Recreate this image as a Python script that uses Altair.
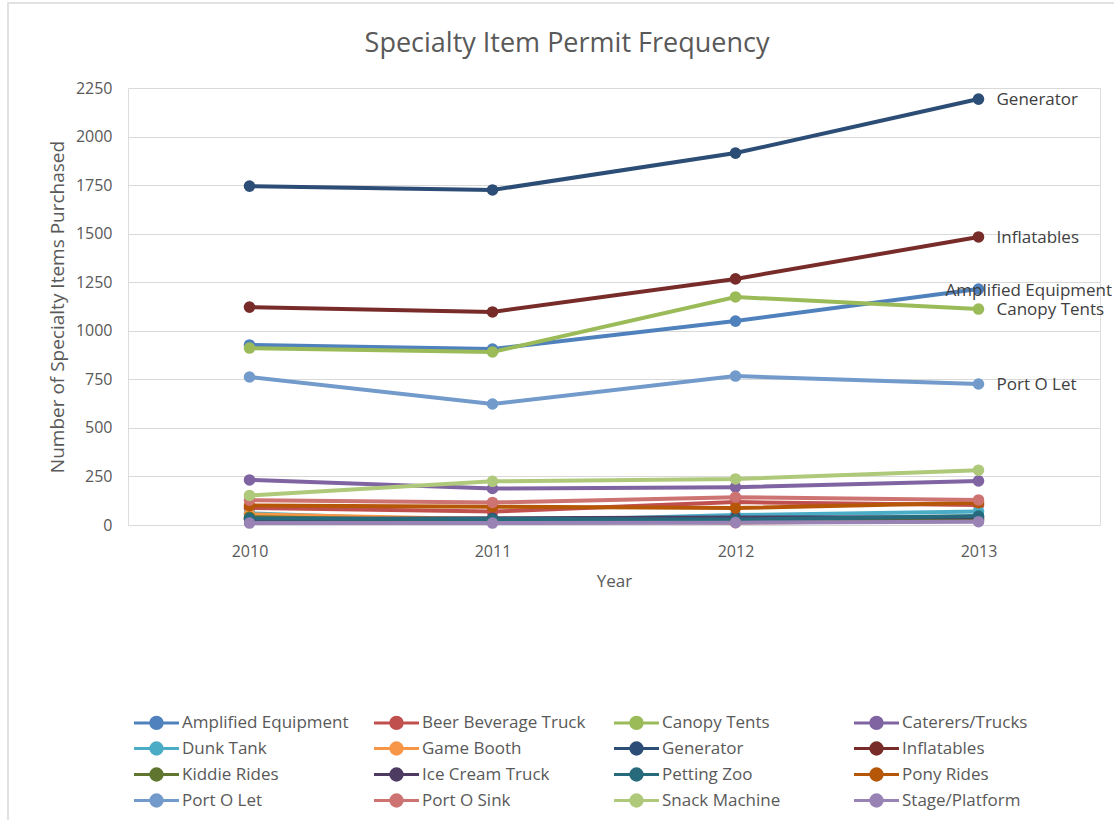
import altair as alt
import pandas as pd

years = ["2010", "2011", "2012", "2013"]

series_names = [
    "Amplified Equipment", "Beer Beverage Truck", "Canopy Tents", "Caterers/Trucks",
    "Dunk Tank", "Game Booth", "Generator", "Inflatables",
    "Kiddie Rides", "Ice Cream Truck", "Petting Zoo", "Pony Rides",
    "Port O Let", "Port O Sink", "Snack Machine", "Stage/Platform",
]

amplified_equipment = [927, 906, 1050, 1215]
beer_beverage_truck = [88, 69, 118, 103]
canopy_tents = [911, 891, 1174, 1112]
caterers_trucks = [232, 188, 195, 227]
dunk_tank = [60, 17, 51, 69]
game_booth = [55, 30, 12, 25]
generator = [1745, 1725, 1915, 2193]
inflatables = [1122, 1097, 1267, 1483]
kiddie_rides = [40, 22, 25, 30]
ice_cream_truck = [30, 35, 38, 40]
petting_zoo = [33, 31, 28, 46]
pony_rides = [100, 94, 87, 115]
port_o_let = [762, 623, 767, 726]
port_o_sink = [128, 116, 143, 129]
snack_machine = [152, 225, 237, 282]
stage_platform = [10, 10, 12, 17]

series_values = [
    amplified_equipment, beer_beverage_truck, canopy_tents, caterers_trucks,
    dunk_tank, game_booth, generator, inflatables,
    kiddie_rides, ice_cream_truck, petting_zoo, pony_rides,
    port_o_let, port_o_sink, snack_machine, stage_platform,
]

series_colors = [
    "#4F81BD", "#C0504D", "#9BBB59", "#8064A2",
    "#4BACC6", "#F79646", "#2C4D75", "#772C2A",
    "#5F7530", "#4D3B62", "#276A7C", "#B65708",
    "#729ACA", "#CD7371", "#AFC97A", "#9983B5",
]

# Series that carry a name label beside their 2013 point
labelled_right = ["Generator", "Inflatables", "Canopy Tents", "Port O Let"]
labelled_left = ["Amplified Equipment"]

rows = []
for idx, (name, vals) in enumerate(zip(series_names, series_values)):
    for yr, v in zip(years, vals):
        rows.append({"item": name, "year": yr, "count": v, "order": idx})
df = pd.DataFrame(rows)

FONT = "Open Sans"
GREY = "#595959"

color_scale = alt.Scale(domain=series_names, range=series_colors)

x_enc = alt.X(
    "year:O",
    title="Year",
    scale=alt.Scale(type="point", padding=0.5),
    axis=alt.Axis(
        labelAngle=0, labelFontSize=16, labelColor=GREY, labelFont=FONT,
        titleFontSize=17, titleColor=GREY, titleFont=FONT, titleFontWeight="normal",
        ticks=False, domain=False, labelPadding=18, titlePadding=14, grid=False,
    ),
)
y_enc = alt.Y(
    "count:Q",
    title="Number of Specialty Items Purchased",
    scale=alt.Scale(domain=[0, 2250], nice=False),
    axis=alt.Axis(
        values=[0, 250, 500, 750, 1000, 1250, 1500, 1750, 2000, 2250],
        format="d",
        labelFontSize=16, labelColor=GREY, labelFont=FONT,
        titleFontSize=19, titleColor=GREY, titleFont=FONT, titleFontWeight="normal",
        ticks=False, domain=False, labelPadding=16, titlePadding=8,
        grid=True, gridColor="#D9D9D9", gridWidth=1,
    ),
)

# Legend glyph: a short line with a dot in the middle (unit = 6 px at size 144)
legend_symbol = (
    "M-3.75,0L3.75,0"
    "M-0.95,0a0.95,0.95 0 1,0 1.9,0a0.95,0.95 0 1,0 -1.9,0Z"
)

item_legend = alt.Legend(
    title=None,
    orient="none",
    legendX=20,
    legendY=626,
    columns=4,
    direction="horizontal",
    gridAlign="all",
    columnPadding=19,
    rowPadding=1,
    symbolType=legend_symbol,
    symbolSize=144,
    symbolStrokeWidth=3,
    labelFont=FONT,
    labelFontSize=17,
    labelColor=GREY,
    labelOffset=17,
    labelLimit=300,
)

color_enc = alt.Color("item:N", scale=color_scale, sort=series_names, legend=item_legend)

base = alt.Chart(df)

# Thin frame around the whole chart area
frame = alt.Chart(pd.DataFrame({"k": [0]})).mark_rect(
    fill="transparent", stroke="#D9D9D9", strokeWidth=1.5
).encode(
    x=alt.value(-120), x2=alt.value(1000),
    y=alt.value(-85), y2=alt.value(760),
)

lines = base.mark_line(strokeWidth=4).encode(
    x=x_enc,
    y=y_enc,
    color=color_enc,
    detail="item:N",
    order="order:Q",
)

points = base.mark_point(filled=True, size=135, opacity=1).encode(
    x="year:O",
    y="count:Q",
    color=color_enc,
)

last = base.transform_filter(alt.datum.year == "2013")

labels_right = last.transform_filter(
    alt.FieldOneOfPredicate(field="item", oneOf=labelled_right)
).mark_text(
    align="left", baseline="middle", dx=18, dy=1, font=FONT, fontSize=17, color="#404040"
).encode(x="year:O", y="count:Q", text="item:N")

labels_left = last.transform_filter(
    alt.FieldOneOfPredicate(field="item", oneOf=labelled_left)
).mark_text(
    align="left", baseline="middle", dx=-33, dy=2, font=FONT, fontSize=17, color="#404040"
).encode(x="year:O", y="count:Q", text="item:N")

chart = (
    alt.layer(frame, lines, points, labels_right, labels_left)
    .properties(
        width=972,
        height=437,
        autosize=alt.AutoSizeParams(type="none"),
        padding={"left": 128, "top": 88, "right": 14, "bottom": 295},
        title=alt.TitleParams(
            "Specialty Item Permit Frequency",
            font=FONT, fontSize=27, fontWeight="normal", color=GREY,
            anchor="middle", dx=-47, offset=-56,
        ),
    )
    .configure_view(strokeWidth=0, stroke="transparent")
    .configure(background="white")
)

chart.save("out.html", embed_options={"renderer": "svg", "actions": False})
